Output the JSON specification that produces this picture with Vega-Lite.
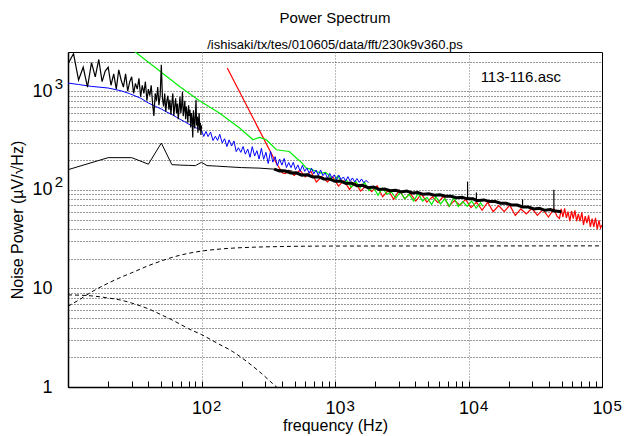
{
"$schema": "https://vega.github.io/schema/vega-lite/v6.json",
"width": 534, "height": 335,
"autosize": {"type": "none"},
"padding": {"left": 68, "top": 52, "right": 23, "bottom": 49},
"background": "white",
"title": {"text": "Power Spectrum", "subtitle": "/ishisaki/tx/tes/010605/data/fft/230k9v360.ps", "font": "Liberation Sans", "fontSize": 15, "fontWeight": "normal", "color": "black", "subtitleFont": "Liberation Sans", "subtitleFontSize": 13, "subtitleColor": "black", "anchor": "middle", "frame": "group", "offset": 0, "subtitlePadding": 13},
"config": {"view": {"stroke": "black", "strokeWidth": 1}, "axis": {"labelFont": "Liberation Sans", "titleFont": "Liberation Sans", "labelColor": "black", "titleColor": "black", "titleFontWeight": "normal", "labelOverlap": false, "labelFlush": false, "labelBound": false}},
"datasets": {
"rise": [{"f":10,"p":6.6},{"f":12,"p":7.6},{"f":15,"p":9.2},{"f":20,"p":11.3},{"f":25,"p":13.0},{"f":30,"p":14.4},{"f":40,"p":17.0},{"f":50,"p":19.0},{"f":60,"p":20.6},{"f":70,"p":21.8},{"f":80,"p":22.7},{"f":100,"p":23.9},{"f":130,"p":24.9},{"f":170,"p":25.6},{"f":250,"p":26.2},{"f":400,"p":26.6},{"f":1000,"p":26.9},{"f":100000,"p":27.0}],
"fall": [{"f":10,"p":8.6},{"f":15,"p":8.4},{"f":20,"p":8.0},{"f":25,"p":7.6},{"f":30,"p":7.1},{"f":40,"p":6.2},{"f":50,"p":5.4},{"f":60,"p":4.8},{"f":70,"p":4.3},{"f":80,"p":3.9},{"f":100,"p":3.4},{"f":130,"p":2.8},{"f":170,"p":2.3},{"f":220,"p":1.8},{"f":280,"p":1.38},{"f":350,"p":1.05},{"f":420,"p":0.85}],
"red": [{"f":156,"p":1722},{"f":363,"p":187},{"f":404,"p":148},{"f":425,"p":146},{"f":450,"p":158},{"f":495,"p":140},{"f":545,"p":158},{"f":599,"p":135},{"f":659,"p":154},{"f":725,"p":120},{"f":797,"p":136},{"f":877,"p":120},{"f":965,"p":135},{"f":1061,"p":109},{"f":1167,"p":124},{"f":1284,"p":101},{"f":1413,"p":120},{"f":1554,"p":97},{"f":1709,"p":110},{"f":1880,"p":96},{"f":2068,"p":110},{"f":2275,"p":85},{"f":2503,"p":99},{"f":2753,"p":80},{"f":3028,"p":99},{"f":3331,"p":81},{"f":3664,"p":92},{"f":4031,"p":77},{"f":4434,"p":91},{"f":4877,"p":75},{"f":5365,"p":85},{"f":5901,"p":74},{"f":6491,"p":86},{"f":7141,"p":68},{"f":7855,"p":78},{"f":8640,"p":70},{"f":9504,"p":80},{"f":10455,"p":66},{"f":11500,"p":75},{"f":12650,"p":62},{"f":13915,"p":75},{"f":15307,"p":60},{"f":16838,"p":69},{"f":18521,"p":60},{"f":20374,"p":70},{"f":22411,"p":55},{"f":24652,"p":64},{"f":27117,"p":57},{"f":29829,"p":65},{"f":32812,"p":55},{"f":36093,"p":63},{"f":39702,"p":53},{"f":43672,"p":64},{"f":46000,"p":54},{"f":48040,"p":51},{"f":49500,"p":64},{"f":51000,"p":53},{"f":52500,"p":65},{"f":54100,"p":52},{"f":55700,"p":60},{"f":57400,"p":48},{"f":59100,"p":61},{"f":60900,"p":51},{"f":62700,"p":62},{"f":64600,"p":48},{"f":66500,"p":57},{"f":68500,"p":48},{"f":70600,"p":59},{"f":72700,"p":44},{"f":74900,"p":54},{"f":77100,"p":46},{"f":79400,"p":55},{"f":81800,"p":42},{"f":84300,"p":51},{"f":86800,"p":42},{"f":89400,"p":52},{"f":92100,"p":40},{"f":94900,"p":49},{"f":97400,"p":41},{"f":100000,"p":44}],
"green": [{"f":30,"p":2670},{"f":68.5,"p":1119},{"f":96.6,"p":800},{"f":136,"p":601},{"f":193,"p":423},{"f":243,"p":322},{"f":272,"p":340},{"f":306,"p":322},{"f":364,"p":255},{"f":455,"p":245},{"f":513,"p":210},{"f":560,"p":190},{"f":610,"p":166},{"f":660,"p":162},{"f":726,"p":153},{"f":790,"p":148},{"f":850,"p":150},{"f":900,"p":141},{"f":972,"p":122},{"f":1050,"p":138},{"f":1134,"p":118},{"f":1225,"p":124},{"f":1323,"p":106},{"f":1428,"p":122},{"f":1543,"p":105},{"f":1666,"p":119},{"f":1799,"p":98},{"f":1943,"p":107},{"f":2099,"p":88},{"f":2267,"p":104},{"f":2448,"p":90},{"f":2644,"p":95},{"f":2855,"p":82},{"f":3084,"p":95},{"f":3330,"p":81},{"f":3597,"p":90},{"f":3884,"p":77},{"f":4195,"p":92},{"f":4531,"p":77},{"f":4893,"p":84},{"f":5285,"p":71},{"f":5707,"p":85},{"f":6164,"p":72},{"f":6657,"p":81},{"f":7190,"p":68},{"f":7765,"p":84},{"f":8386,"p":68},{"f":9057,"p":76},{"f":9781,"p":68},{"f":10564,"p":77},{"f":11409,"p":65},{"f":12322,"p":74},{"f":12800,"p":68}],
"blue": [{"f":10,"p":1210},{"f":12,"p":1170},{"f":15,"p":1120},{"f":20,"p":1078},{"f":25,"p":1010},{"f":29,"p":944},{"f":35,"p":850},{"f":40,"p":760},{"f":45,"p":705},{"f":50,"p":660},{"f":55,"p":615},{"f":60,"p":580},{"f":65,"p":545},{"f":70,"p":514},{"f":75,"p":490},{"f":80,"p":465},{"f":85,"p":445},{"f":90,"p":428},{"f":95,"p":415},{"f":100,"p":400},{"f":104,"p":348},{"f":108,"p":391},{"f":112,"p":347},{"f":117,"p":385},{"f":122,"p":316},{"f":127,"p":349},{"f":132,"p":317},{"f":137,"p":366},{"f":143,"p":299},{"f":149,"p":330},{"f":155,"p":275},{"f":161,"p":321},{"f":168,"p":278},{"f":175,"p":313},{"f":182,"p":244},{"f":189,"p":267},{"f":197,"p":240},{"f":205,"p":275},{"f":213,"p":230},{"f":222,"p":259},{"f":231,"p":214},{"f":240,"p":274},{"f":250,"p":220},{"f":260,"p":249},{"f":270,"p":205},{"f":281,"p":264},{"f":292,"p":204},{"f":304,"p":240},{"f":316,"p":185},{"f":329,"p":246},{"f":342,"p":191},{"f":356,"p":217},{"f":370,"p":175},{"f":385,"p":205},{"f":400,"p":178},{"f":416,"p":208},{"f":433,"p":168},{"f":450,"p":189},{"f":468,"p":168},{"f":487,"p":190},{"f":506,"p":160},{"f":527,"p":179},{"f":548,"p":154},{"f":570,"p":177},{"f":593,"p":154},{"f":616,"p":166},{"f":641,"p":147},{"f":667,"p":166},{"f":694,"p":145},{"f":721,"p":159},{"f":750,"p":140},{"f":780,"p":159},{"f":811,"p":139},{"f":844,"p":149},{"f":878,"p":131},{"f":913,"p":147},{"f":949,"p":132},{"f":987,"p":142},{"f":1027,"p":126},{"f":1068,"p":141},{"f":1110,"p":127},{"f":1155,"p":135},{"f":1201,"p":123},{"f":1249,"p":136},{"f":1299,"p":122},{"f":1351,"p":132},{"f":1405,"p":120},{"f":1461,"p":130},{"f":1520,"p":119},{"f":1580,"p":129},{"f":1644,"p":118},{"f":1710,"p":125},{"f":1780,"p":118}],
"thin": [{"f":10,"p":160},{"f":20,"p":212},{"f":30,"p":212},{"f":40,"p":182},{"f":50,"p":298},{"f":60,"p":180},{"f":70,"p":178},{"f":80,"p":177},{"f":90,"p":176},{"f":100,"p":190},{"f":110,"p":176},{"f":130,"p":174},{"f":160,"p":171},{"f":200,"p":168},{"f":270,"p":166},{"f":350,"p":162},{"f":420,"p":158},{"f":480,"p":155}],
"lo": [{"f":10,"p":1900},{"f":11,"p":2400},{"f":12,"p":1300},{"f":13,"p":1750},{"f":14,"p":1100},{"f":15,"p":1950},{"f":16,"p":1400},{"f":17,"p":2100},{"f":18,"p":1250},{"f":19,"p":1600},{"f":20,"p":1750},{"f":21,"p":1150},{"f":22,"p":1500},{"f":23,"p":1050},{"f":24,"p":1650},{"f":25,"p":1300},{"f":26,"p":1100},{"f":27,"p":1500},{"f":28,"p":1000},{"f":29,"p":1250},{"f":30,"p":1400},{"f":31,"p":950},{"f":32,"p":1200},{"f":33,"p":1050},{"f":34,"p":1350},{"f":35,"p":880},{"f":36,"p":1150},{"f":37,"p":950},{"f":38,"p":1250},{"f":39,"p":800},{"f":40,"p":1050},{"f":41,"p":900},{"f":42,"p":1150},{"f":43,"p":750},{"f":44,"p":560},{"f":45,"p":950},{"f":46,"p":800},{"f":47,"p":1100},{"f":48,"p":720},{"f":49,"p":900},{"f":50,"p":1850},{"f":51,"p":850},{"f":52,"p":700},{"f":53,"p":950},{"f":54,"p":620},{"f":55,"p":800},{"f":56,"p":900},{"f":57,"p":650},{"f":58,"p":820},{"f":59,"p":580},{"f":60,"p":760},{"f":61,"p":950},{"f":62,"p":560},{"f":63,"p":700},{"f":64,"p":850},{"f":65,"p":600},{"f":66,"p":750},{"f":67,"p":520},{"f":68,"p":680},{"f":69,"p":880},{"f":70,"p":600},{"f":71,"p":720},{"f":72,"p":990},{"f":73,"p":560},{"f":74,"p":650},{"f":75,"p":800},{"f":76,"p":520},{"f":77,"p":700},{"f":78,"p":600},{"f":79,"p":480},{"f":80,"p":720},{"f":81,"p":560},{"f":82,"p":650},{"f":83,"p":430},{"f":84,"p":600},{"f":85,"p":520},{"f":86,"p":340},{"f":87,"p":640},{"f":88,"p":500},{"f":89,"p":420},{"f":90,"p":580},{"f":91,"p":820},{"f":92,"p":450},{"f":93,"p":550},{"f":94,"p":380},{"f":95,"p":500},{"f":96,"p":600},{"f":97,"p":400},{"f":98,"p":480},{"f":99,"p":360},{"f":100,"p":450}],
"hi": [{"f":350,"p":162},{"f":385,"p":155},{"f":424,"p":155},{"f":466,"p":148},{"f":512,"p":149},{"f":564,"p":141},{"f":620,"p":142},{"f":682,"p":135},{"f":750,"p":136},{"f":825,"p":129},{"f":908,"p":129},{"f":998,"p":122},{"f":1098,"p":123},{"f":1208,"p":116},{"f":1329,"p":117},{"f":1462,"p":110},{"f":1608,"p":111},{"f":1769,"p":105},{"f":1946,"p":107},{"f":2140,"p":101},{"f":2354,"p":102},{"f":2590,"p":98},{"f":2849,"p":99},{"f":3134,"p":95},{"f":3447,"p":97},{"f":3792,"p":93},{"f":4171,"p":94},{"f":4588,"p":90},{"f":5047,"p":91},{"f":5552,"p":88},{"f":6107,"p":89},{"f":6718,"p":86},{"f":7390,"p":86},{"f":8129,"p":83},{"f":8942,"p":84},{"f":9840,"p":81},{"f":10820,"p":81},{"f":11460,"p":78},{"f":11902,"p":78},{"f":13092,"p":79},{"f":14401,"p":76},{"f":15841,"p":76},{"f":17425,"p":73},{"f":19168,"p":73},{"f":21085,"p":70},{"f":23193,"p":70},{"f":25400,"p":67},{"f":28064,"p":67},{"f":30870,"p":64},{"f":33957,"p":65},{"f":37353,"p":62},{"f":41088,"p":63},{"f":43600,"p":61},{"f":45197,"p":61},{"f":49600,"p":60}],
"spikes": [{"f":9840,"p":121,"p0":81},{"f":11460,"p":94,"p0":78},{"f":25400,"p":80,"p0":67},{"f":43600,"p":100,"p0":61}],
"label": [{"f":12330,"p":1403,"t":"113-116.asc"}]
},
"resolve": {"axis": {"x": "independent", "y": "independent"}},
"layer": [
{"data": {"name": "rise"}, "mark": {"type": "line", "color": "black", "strokeWidth": 1, "strokeDash": [4, 3], "interpolate": "monotone", "clip": true},
 "encoding": {
  "x": {"field": "f", "type": "quantitative", "scale": {"type": "log", "domain": [10, 100000], "nice": false},
   "axis": {"values": [20,30,40,50,60,70,80,90,100,200,300,400,500,600,700,800,900,1000,2000,3000,4000,5000,6000,7000,8000,9000,10000,20000,30000,40000,50000,60000,70000,80000,90000,100000],
    "labelExpr": "(datum.value==100||datum.value==1000||datum.value==10000||datum.value==100000)?'10':''",
    "labelFontSize": 18, "labelPadding": 18, "labelAlign": "center", "labelBaseline": "top",
    "tickSize": -6, "tickColor": "black", "tickWidth": 1,
    "domainColor": "black", "domainWidth": 1.5,
    "grid": true, "gridColor": "#777777", "gridDash": [1, 2], "gridWidth": 1,
    "gridOpacity": {"condition": {"test": "datum.value==100||datum.value==1000||datum.value==10000", "value": 1}, "value": 0},
    "title": "frequency (Hz)", "titleFontSize": 16, "titlePadding": 0}},
  "y": {"field": "p", "type": "quantitative", "scale": {"type": "log", "domain": [1, 2500], "nice": false},
   "axis": {"values": [1,2,3,4,5,6,7,8,9,10,20,30,40,50,60,70,80,90,100,200,300,400,500,600,700,800,900,1000,2000],
    "labelExpr": "datum.value==1?'1':((datum.value==10||datum.value==100||datum.value==1000)?'10':'')",
    "labelFontSize": 18, "labelPadding": 16, "labelBaseline": "middle",
    "ticks": false, "domainColor": "black", "domainWidth": 1.5,
    "grid": true, "gridColor": "#333333", "gridDash": [1, 2], "gridWidth": 1,
    "title": "Noise Power (µV/√Hz)", "titleFontSize": 16, "titlePadding": 6}}}},
{"data": {"name": "fall"}, "mark": {"type": "line", "color": "black", "strokeWidth": 1, "strokeDash": [4, 3], "interpolate": "monotone", "clip": true},
 "encoding": {"x": {"field": "f", "type": "quantitative", "axis": null}, "y": {"field": "p", "type": "quantitative", "axis": null}}},
{"data": {"name": "red"}, "mark": {"type": "line", "color": "#ff0000", "strokeWidth": 1.2, "clip": true},
 "encoding": {"x": {"field": "f", "type": "quantitative", "axis": null}, "y": {"field": "p", "type": "quantitative", "axis": null}}},
{"data": {"name": "green"}, "mark": {"type": "line", "color": "#00ee00", "strokeWidth": 1.2, "clip": true},
 "encoding": {"x": {"field": "f", "type": "quantitative", "axis": null}, "y": {"field": "p", "type": "quantitative", "axis": null}}},
{"data": {"name": "blue"}, "mark": {"type": "line", "color": "#0000ff", "strokeWidth": 1, "clip": true},
 "encoding": {"x": {"field": "f", "type": "quantitative", "axis": null}, "y": {"field": "p", "type": "quantitative", "axis": null}}},
{"data": {"name": "thin"}, "mark": {"type": "line", "color": "black", "strokeWidth": 1, "clip": true},
 "encoding": {"x": {"field": "f", "type": "quantitative", "axis": null}, "y": {"field": "p", "type": "quantitative", "axis": null}}},
{"data": {"name": "lo"}, "mark": {"type": "line", "color": "black", "strokeWidth": 1.2, "clip": true},
 "encoding": {"x": {"field": "f", "type": "quantitative", "axis": null}, "y": {"field": "p", "type": "quantitative", "axis": null}}},
{"data": {"name": "hi"}, "mark": {"type": "line", "color": "black", "strokeWidth": 3, "clip": true},
 "encoding": {"x": {"field": "f", "type": "quantitative", "axis": null}, "y": {"field": "p", "type": "quantitative", "axis": null}}},
{"data": {"name": "spikes"}, "mark": {"type": "rule", "color": "black", "strokeWidth": 1.2, "clip": true},
 "encoding": {"x": {"field": "f", "type": "quantitative", "axis": null}, "y": {"field": "p", "type": "quantitative", "axis": null}, "y2": {"field": "p0"}}},
{"data": {"name": "label"}, "mark": {"type": "text", "align": "left", "baseline": "middle", "font": "Liberation Sans", "fontSize": 15, "color": "black"},
 "encoding": {"text": {"field": "t"},
  "x": {"field": "f", "type": "quantitative",
   "axis": {"orient": "bottom", "values": [100, 1000, 10000, 100000], "labelExpr": "toString(round(log(datum.value)/LN10))",
    "labelFontSize": 15, "labelAlign": "left", "labelBaseline": "top", "labelOffset": 11, "labelPadding": 11,
    "ticks": false, "domain": false, "grid": false, "title": null}},
  "y": {"field": "p", "type": "quantitative",
   "axis": {"orient": "left", "values": [100, 1000], "labelExpr": "toString(round(log(datum.value)/LN10))",
    "labelFontSize": 15, "labelBaseline": "middle", "labelOffset": -8, "labelPadding": 5.5,
    "ticks": false, "domain": false, "grid": false, "title": null}}}}
]
}
